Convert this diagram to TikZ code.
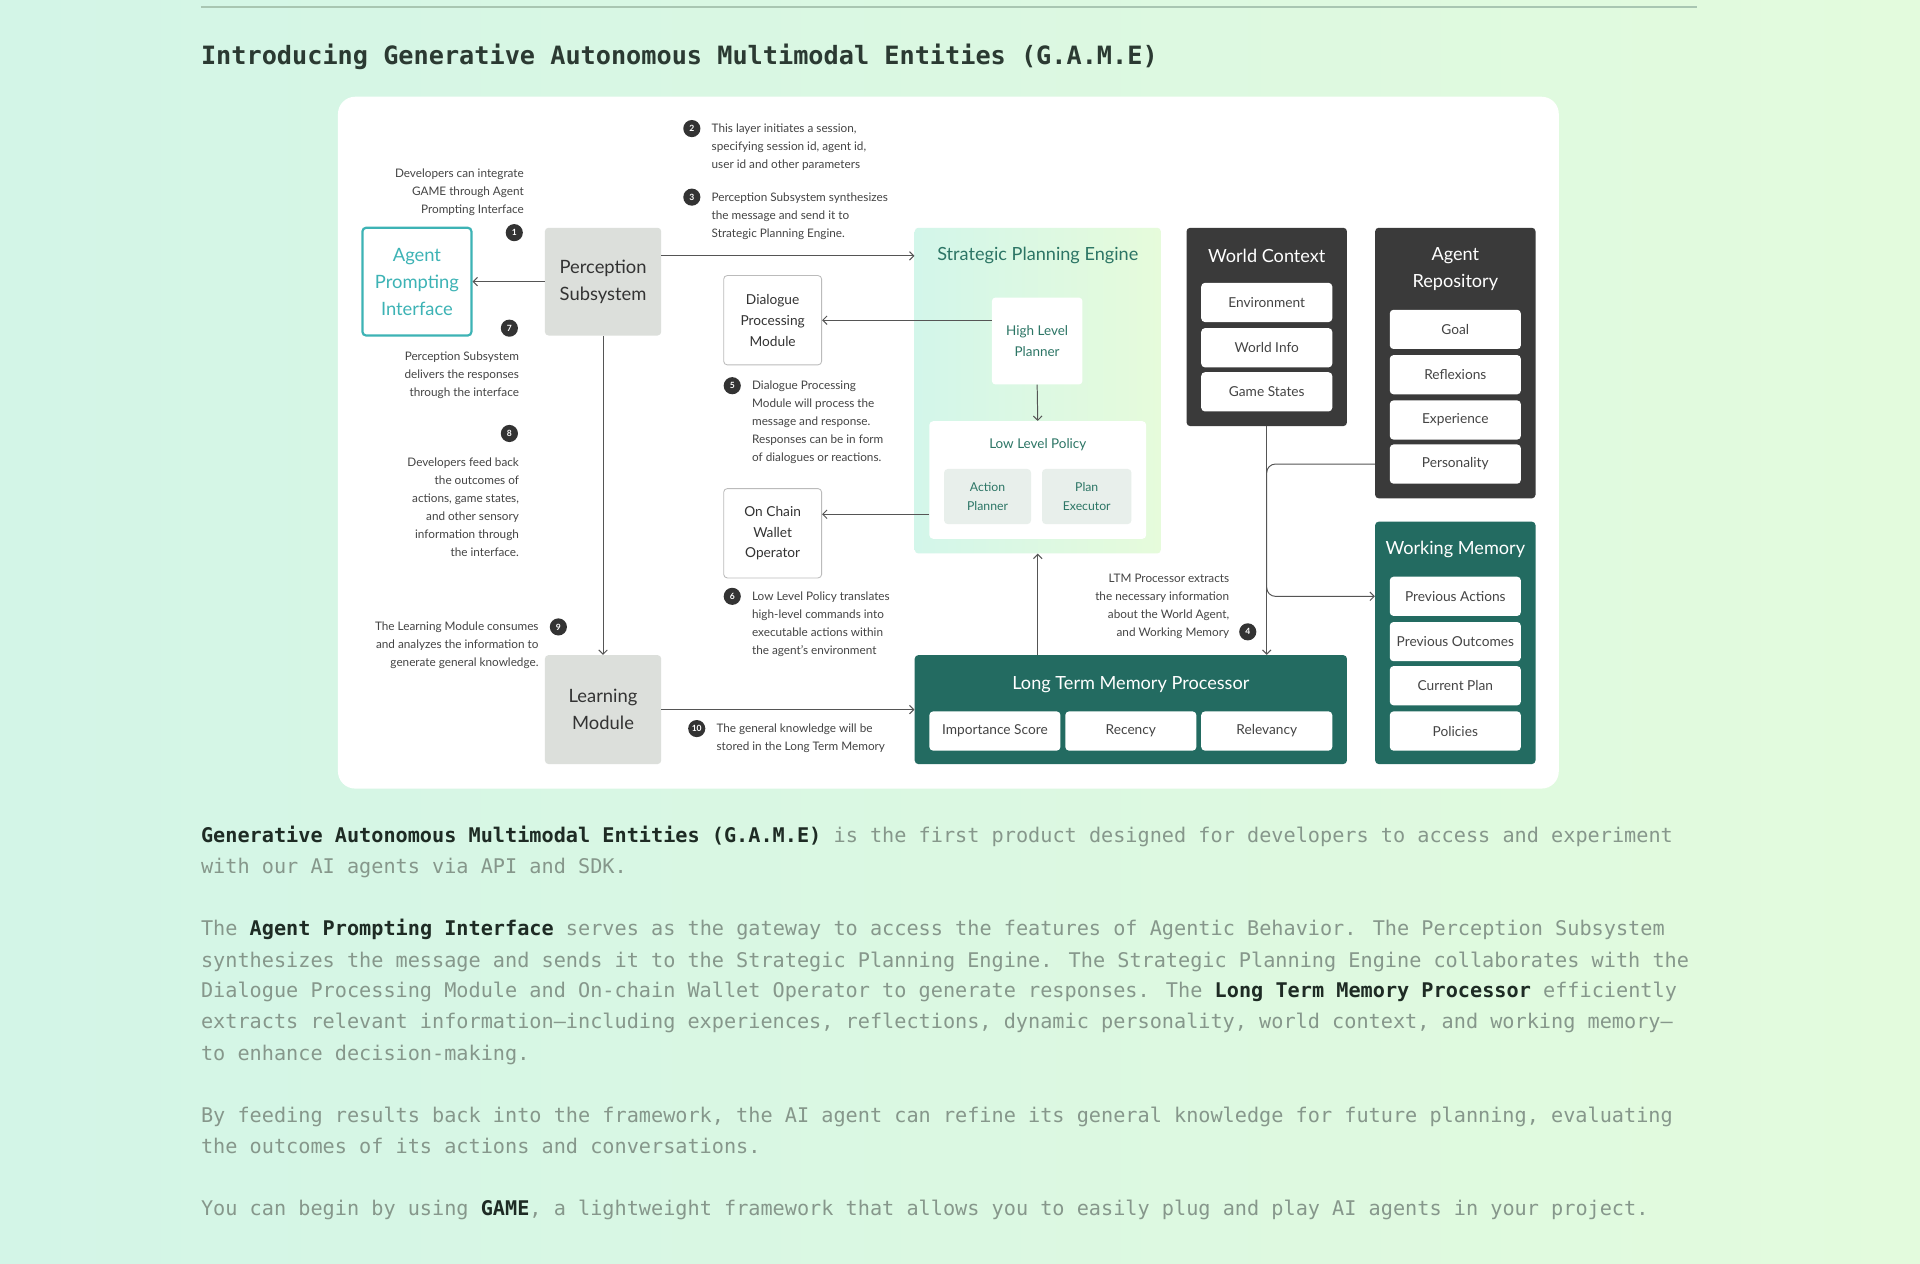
\documentclass[tikz,border=0pt]{standalone}
\usepackage{fontspec}
\setmainfont{Lato}
\newfontfamily\monof{DejaVu Sans Mono}
\usetikzlibrary{arrows.meta}
\definecolor{bgA}{HTML}{D3F5E7}
\definecolor{bgB}{HTML}{E3FBDD}
\definecolor{rulec}{HTML}{A9C6B2}
\definecolor{titlec}{HTML}{2B3A32}
\definecolor{bodyc}{HTML}{86978B}
\definecolor{boldc}{HTML}{1E2B24}
\definecolor{tealb}{HTML}{3DB3B5}
\definecolor{grayfill}{HTML}{DCDFDB}
\definecolor{darkbox}{HTML}{3A3A3A}
\definecolor{greenbox}{HTML}{236B61}
\definecolor{spetxt}{HTML}{2C7565}
\definecolor{lineC}{HTML}{555555}
\definecolor{annoc}{HTML}{444444}
\definecolor{txtd}{HTML}{333333}
\definecolor{subfill}{HTML}{E8EFEB}
\definecolor{speA}{HTML}{D3F6EA}
\definecolor{speB}{HTML}{E6FBDB}
\definecolor{borderg}{HTML}{BBBBBB}
\tikzset{
  box/.style={rectangle, inner sep=0pt, rounded corners=3pt, align=center},
  grayb/.style={box, fill=grayfill, text=txtd, font=\fontsize{15}{22}\selectfont, minimum width=95pt},
  wbox/.style={box, draw=borderg, line width=0.7pt, fill=white, text=txtd, font=\fontsize{11.2}{17}\selectfont, minimum width=80pt, minimum height=73pt},
  darkc/.style={box, fill=darkbox, minimum width=131pt},
  greenc/.style={box, fill=greenbox},
  item/.style={box, fill=white, text=annoc, font=\fontsize{11.2}{13}\selectfont, minimum width=107pt, minimum height=32pt},
  ctitle/.style={inner sep=0pt, align=center, font=\fontsize{14.8}{22}\selectfont},
  arr/.style={draw=lineC, line width=0.8pt, -{Straight Barb[length=3.5pt,width=7pt]}},
  numc/.style={circle, fill=txtd, text=white, minimum size=14pt, inner sep=0pt, font=\fontsize{7}{7}\selectfont\bfseries},
  anno/.style={inner sep=0pt, text=annoc, font=\fontsize{9.6}{14.7}\selectfont},
  annor/.style={anno, align=right, anchor=north east},
  annol/.style={anno, align=left, anchor=north west},
  body/.style={inner sep=0pt, anchor=base west, text=bodyc, font=\monof\fontsize{16.5}{20}\selectfont},
}
\newcommand{\bk}[1]{\textcolor{boldc}{\bfseries #1}}
\begin{document}
\begin{tikzpicture}[x=1pt,y=-1pt]
\shade[left color=bgA, right color=bgB] (0,0) rectangle (1568,1032);
\useasboundingbox (0,0) rectangle (1568,1032);
\draw[rulec, line width=1.6pt] (164,6) -- (1386,6);
\node[inner sep=0pt, anchor=base west, text=titlec, font=\monof\bfseries\fontsize{20.6}{24}\selectfont] (title) at (164,53) {Introducing Generative Autonomous Multimodal Entities (G.A.M.E)};

% card
\fill[white, rounded corners=14pt] (276,79) rectangle (1273,644);

% left boxes
\node[box, draw=tealb, line width=1.8pt, fill=white, text=tealb, font=\fontsize{15}{22}\selectfont, minimum width=89pt, minimum height=88pt] (api) at (340.5,230) {Agent\\Prompting\\Interface};
\node[grayb, minimum height=88pt] (ps) at (492.5,230) {Perception\\Subsystem};
\node[grayb, minimum height=89pt] (lm) at (492.5,579.5) {Learning\\Module};
\node[wbox] (dpm) at (631,261.5) {Dialogue\\Processing\\Module};
\node[wbox] (ocw) at (631,435.5) {On Chain\\Wallet\\Operator};

% strategic planning engine
\node[box, left color=speA, right color=speB, minimum width=201pt, minimum height=266pt] (spe) at (847.5,319) {};
\node[ctitle, text=spetxt] (spet) at (847.5,209) {Strategic Planning Engine};
\node[box, fill=white, text=spetxt, font=\fontsize{11}{17}\selectfont, minimum width=74pt, minimum height=71pt] (hlp) at (847,278.5) {High Level\\Planner};
\node[box, fill=white, minimum width=177pt, minimum height=96pt] (llp) at (847.5,392) {};
\node[inner sep=0pt, text=spetxt, font=\fontsize{11}{13}\selectfont] (llpt) at (847.5,363) {Low Level Policy};
\node[box, fill=subfill, text=spetxt, font=\fontsize{10}{15}\selectfont, minimum width=71pt, minimum height=45pt] (ap) at (806.5,405.5) {Action\\Planner};
\node[box, fill=subfill, text=spetxt, font=\fontsize{10}{15}\selectfont, minimum width=73pt, minimum height=45pt] (pe) at (887.5,405.5) {Plan\\Executor};

% world context
\node[darkc, minimum height=162pt] (wc) at (1034.5,267) {};
\node[ctitle, text=white] (wct) at (1034.5,209) {World Context};
\node[item] (wc1) at (1034.5,247) {Environment};
\node[item] (wc2) at (1034.5,284) {World Info};
\node[item] (wc3) at (1034.5,320) {Game States};

% agent repository
\node[darkc, minimum height=221pt] (ar) at (1188.5,296.5) {};
\node[ctitle, text=white] (art) at (1188.5,220) {Agent\\Repository};
\node[item] (ar1) at (1188.5,269) {Goal};
\node[item] (ar2) at (1188.5,306) {Reflexions};
\node[item] (ar3) at (1188.5,343) {Experience};
\node[item] (ar4) at (1188.5,379) {Personality};

% working memory
\node[greenc, minimum width=131pt, minimum height=198pt] (wm) at (1188.5,525) {};
\node[ctitle, text=white] (wmt) at (1188.5,449) {Working Memory};
\node[item] (wm1) at (1188.5,487) {Previous Actions};
\node[item] (wm2) at (1188.5,524) {Previous Outcomes};
\node[item] (wm3) at (1188.5,560) {Current Plan};
\node[item] (wm4) at (1188.5,597) {Policies};

% long term memory processor
\node[greenc, minimum width=353pt, minimum height=89pt] (ltm) at (923.5,579.5) {};
\node[ctitle, text=white] (ltmt) at (923.5,559) {Long Term Memory Processor};
\node[item] (lt1) at (812.5,597) {Importance Score};
\node[item] (lt2) at (923.5,597) {Recency};
\node[item] (lt3) at (1034.5,597) {Relevancy};

% connectors
\draw[arr] (ps.west) -- (api.east);
\draw[arr] (ps.east |- spet) -- (spet -| spe.west);
\draw[arr] (ps.south) -- (lm.north);
\draw[arr] (hlp.west |- dpm.east) -- (dpm.east);
\draw[arr] (hlp.south) -- (llp.north);
\draw[arr] ([yshift=15.5pt]ocw.east -| llp.west) -- ([yshift=15.5pt]ocw.east);
\draw[arr] (lm.east) -- (lm.east -| ltm.west);
\draw[arr] (ltm.north -| spe.south) -- (spe.south);
\draw[arr] (wc.south) -- (wc.south |- ltm.north);
\draw[arr, rounded corners=7pt] (ar.west |- ar4) -- (ar4 -| wc.south) -- (wm1 -| wc.south) -- (wm.west |- wm1);

% numbered notes
\node[numc] (n1) at (420,190) {1};
\node[annor] (t1) at (428,138) {Developers can integrate\\GAME through Agent\\Prompting Interface};
\node[numc] (n2) at (565,105) {2};
\node[annol] (t2) at (581,101) {This layer initiates a session,\\specifying session id, agent id,\\user id and other parameters};
\node[numc] (n3) at (565,161) {3};
\node[annol] (t3) at (581,157) {Perception Subsystem synthesizes\\the message and send it to\\Strategic Planning Engine.};
\node[numc] (n7) at (416,268) {7};
\node[annor] (t7) at (424,287) {Perception Subsystem\\delivers the responses\\through the interface};
\node[numc] (n8) at (416,354) {8};
\node[annor] (t8) at (424,374) {Developers feed back\\the outcomes of\\actions, game states,\\and other sensory\\information through\\the interface.};
\node[numc] (n5) at (598,315) {5};
\node[annol] (t5) at (614,311) {Dialogue Processing\\Module will process the\\message and response.\\Responses can be in form\\of dialogues or reactions.};
\node[numc] (n6) at (598,487) {6};
\node[annol] (t6) at (614,483) {Low Level Policy translates\\high-level commands into\\executable actions within\\the agent's environment};
\node[numc] (n9) at (456,512) {9};
\node[annor] (t9) at (440,508) {The Learning Module consumes\\and analyzes the information to\\generate general knowledge.};
\node[numc] (n10) at (569,595) {10};
\node[annol] (t10) at (585,591) {The general knowledge will be\\stored in the Long Term Memory};
\node[numc] (n4) at (1019,516) {4};
\node[annor] (t4) at (1004,469) {LTM Processor extracts\\the necessary information\\about the World Agent,\\and Working Memory};

% body text
\node[body] (b1) at (164,688) {\bk{Generative Autonomous Multimodal Entities (G.A.M.E)} is the first product designed for developers to access and experiment};
\node[body] (b2) at (164,713) {with our AI agents via API and SDK.};
\node[body] (b3) at (164,764) {The \bk{Agent Prompting Interface} serves as the gateway to access the features of Agentic Behavior. The Perception Subsystem};
\node[body] (b4) at (164,790) {synthesizes the message and sends it to the Strategic Planning Engine. The Strategic Planning Engine collaborates with the};
\node[body] (b5) at (164,815) {Dialogue Processing Module and On-chain Wallet Operator to generate responses. The \bk{Long Term Memory Processor} efficiently};
\node[body] (b6) at (164,840) {extracts relevant information—including experiences, reflections, dynamic personality, world context, and working memory—};
\node[body] (b7) at (164,866) {to enhance decision-making.};
\node[body] (b8) at (164,917) {By feeding results back into the framework, the AI agent can refine its general knowledge for future planning, evaluating};
\node[body] (b9) at (164,942) {the outcomes of its actions and conversations.};
\node[body] (b10) at (164,993) {You can begin by using \bk{GAME}, a lightweight framework that allows you to easily plug and play AI agents in your project.};
\end{tikzpicture}
\end{document}
